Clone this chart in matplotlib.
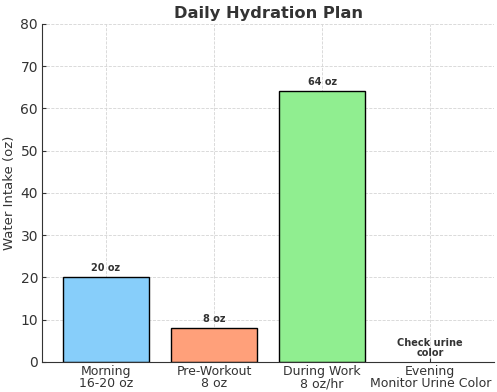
import matplotlib
import matplotlib.pyplot as plt

matplotlib.use('Agg')

categories = ["Morning\n16-20 oz", "Pre-Workout\n8 oz", "During Work\n8 oz/hr", "Evening\nMonitor Urine Color"]
intake = [20, 8, 64, 0]
bar_labels = ["20 oz", "8 oz", "64 oz", "Check urine\ncolor"]
colors = ["lightskyblue", "lightsalmon", "lightgreen", "lightgray"]

plt.rcParams['text.color'] = '#333333'
plt.rcParams['axes.labelcolor'] = '#333333'
plt.rcParams['xtick.color'] = '#333333'
plt.rcParams['ytick.color'] = '#333333'

fig = plt.figure(figsize=(4.97, 3.92), dpi=100)
ax = fig.add_axes([0.085, 0.077, 0.909, 0.862])

x = range(len(categories))
widths = [1 if v > 0 else 0 for v in intake]
bars = ax.bar(x, intake, color=colors, edgecolor='black', width=0.8,
              linewidth=widths, zorder=2)
for b, lab in zip(bars, bar_labels):
    ax.text(b.get_x() + b.get_width() / 2, b.get_height() + 1, lab,
            ha='center', va='bottom', fontsize=7, fontweight='bold',
            linespacing=1.0)

ax.set_xticks(list(x))
ax.set_xticklabels(categories, fontsize=9, linespacing=0.95)
ax.set_ylim(0, 80)
ax.tick_params(axis='y', labelsize=10, pad=3, length=3, direction='in')
ax.tick_params(axis='x', pad=2, length=3, direction='in')
ax.set_ylabel("Water Intake (oz)", fontsize=9.5, labelpad=3)
ax.set_title("Daily Hydration Plan", fontsize=11.7, fontweight='bold', pad=4)
ax.grid(True, linestyle='--', color='#d5d5d5', linewidth=0.6, zorder=0)
ax.spines['top'].set_visible(False)
ax.spines['right'].set_visible(False)
ax.spines['left'].set_color('#333333')
ax.spines['bottom'].set_color('#333333')

fig.savefig("out.png")
